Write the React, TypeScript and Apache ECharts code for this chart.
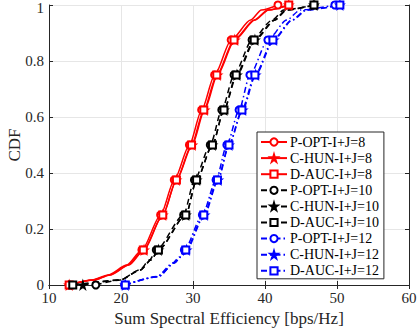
import React, { useEffect, useRef } from "react";
import * as echarts from "echarts";

// CDF levels shared by all curves
const cdfLevels = [0, 0.018, 0.036, 0.071, 0.125, 0.25, 0.375, 0.5, 0.625, 0.75, 0.875, 0.946, 0.982, 1];
const cdfLevelsB = [0, 0.018, 0.054, 0.09, 0.125, 0.25, 0.375, 0.5, 0.625, 0.75, 0.875, 0.946, 0.982, 1];
const cdfLevelsC = [0, 0.03, 0.079, 0.1, 0.125, 0.25, 0.375, 0.5, 0.625, 0.75, 0.875, 0.946, 0.982, 1];

// x values (sum spectral efficiency) per series
const pOpt8 = [12.8, 16.0, 18.2, 20.8, 22.9, 25.5, 27.4, 29.5, 31.2, 33.0, 35.3, 38.0, 39.5, 41.8];
const cHun8 = [12.8, 16.2, 18.5, 21.1, 23.2, 25.8, 27.7, 29.9, 31.6, 33.4, 35.8, 38.6, 40.5, 43.3];
const dAuc8 = [12.8, 16.2, 18.4, 21.0, 23.1, 25.8, 27.7, 29.8, 31.5, 33.3, 35.7, 38.5, 40.4, 43.3];

const pOpt10 = [16.5, 19.9, 22.6, 24.0, 24.9, 28.7, 30.2, 32.4, 34.0, 35.7, 38.2, 41.0, 42.6, 46.8];
const cHun10 = [14.7, 19.9, 22.7, 24.2, 25.2, 29.0, 30.5, 32.7, 34.3, 36.1, 38.6, 41.4, 43.0, 46.8];
const dAuc10 = [13.3, 19.9, 22.7, 24.2, 25.2, 29.0, 30.5, 32.7, 34.3, 36.0, 38.5, 41.3, 42.9, 46.8];

const pOpt12 = [20.5, 25.0, 27.2, 28.1, 28.8, 31.3, 33.2, 34.7, 36.4, 37.9, 40.4, 43.0, 44.9, 49.7];
const cHun12 = [20.6, 25.2, 27.4, 28.3, 29.1, 31.6, 33.5, 35.0, 36.9, 38.7, 41.2, 43.8, 45.8, 50.4];
const dAuc12 = [20.6, 25.2, 27.4, 28.3, 29.0, 31.5, 33.4, 35.0, 36.8, 38.6, 41.1, 43.7, 45.7, 50.4];

const seriesNames = [
  "P-OPT-I+J=8", "C-HUN-I+J=8", "D-AUC-I+J=8",
  "P-OPT-I+J=10", "C-HUN-I+J=10", "D-AUC-I+J=10",
  "P-OPT-I+J=12", "C-HUN-I+J=12", "D-AUC-I+J=12",
];

const xTicks = { min: 10, max: 60, interval: 10 };
const yTicks = { min: 0, max: 1, interval: 0.2 };
const xAxisTitle = "Sum Spectral Efficiency [bps/Hz]";
const yAxisTitle = "CDF";

const STAR =
  "path://M50,0 L61,35 L98,35 L68,57 L79,91 L50,70 L21,91 L32,57 L2,35 L39,35 Z";

const FONT = "'Liberation Serif', 'Times New Roman', serif";

export default function App() {
  const ref = useRef<HTMLDivElement>(null);
  useEffect(() => {
    if (!ref.current) return;
    const chart = echarts.init(ref.current, undefined, { renderer: "svg" });

    const groups = [
      { xs: [pOpt8, cHun8, dAuc8], ys: cdfLevels, color: "#ff0000", type: "solid" as any },
      { xs: [pOpt10, cHun10, dAuc10], ys: cdfLevelsB, color: "#000000", type: [6, 4] as any },
      { xs: [pOpt12, cHun12, dAuc12], ys: cdfLevelsC, color: "#0000ff", type: [6, 3, 1.5, 3] as any },
    ];
    const symbols = ["emptyCircle", STAR, "emptyRect"];
    const sizes = [7, 8, 7];

    const series: any[] = [];
    groups.forEach((g, gi) => {
      g.xs.forEach((xs, si) => {
        series.push({
          name: seriesNames[gi * 3 + si],
          type: "line",
          smooth: 0.25,
          smoothMonotone: "x",
          symbol: symbols[si],
          symbolSize: sizes[si],
          showAllSymbol: true,
          lineStyle: { color: g.color, width: 1.5, type: g.type },
          itemStyle: { color: g.color, borderColor: g.color, borderWidth: 1.4 },
          data: xs.map((x, i) => {
            const y = g.ys[i];
            const marked = Math.abs(y * 8 - Math.round(y * 8)) < 1e-6;
            return marked ? { value: [x, y] } : { value: [x, y], symbol: "none" };
          }),
          z: 3,
        });
      });
    });

    const axisLine = { show: true, lineStyle: { color: "#262626", width: 1 } };
    const tickStyle = { show: true, inside: true, length: 4, lineStyle: { color: "#262626" } };

    chart.setOption({
      animation: false,
      backgroundColor: "#ffffff",
      grid: { left: 49, right: 10, top: 5, bottom: 43, containLabel: false, outerBoundsMode: "none" },
      graphic: [
        {
          type: "text",
          x: 14,
          y: 145,
          rotation: Math.PI / 2,
          style: {
            text: yAxisTitle,
            font: "17px " + FONT,
            fill: "#262626",
            align: "center",
            verticalAlign: "middle",
          },
        },
      ],
      xAxis: [
        {
          type: "value",
          min: xTicks.min, max: xTicks.max, interval: xTicks.interval,
          name: xAxisTitle,
          nameLocation: "middle",
          nameGap: 21,
          nameTextStyle: { fontFamily: FONT, fontSize: 17, color: "#262626" },
          axisLine, axisTick: tickStyle,
          axisLabel: { fontFamily: FONT, fontSize: 15, color: "#262626", margin: 5 },
          splitLine: { show: true, lineStyle: { color: "#e6e6e6", width: 1 } },
        },
        {
          type: "value", position: "top",
          min: xTicks.min, max: xTicks.max, interval: xTicks.interval,
          axisLine, axisTick: tickStyle, axisLabel: { show: false }, splitLine: { show: false },
        },
      ],
      yAxis: [
        {
          type: "value",
          min: yTicks.min, max: yTicks.max, interval: yTicks.interval,
          axisLine, axisTick: tickStyle,
          axisLabel: {
            fontFamily: FONT, fontSize: 15, color: "#262626", margin: 5,
            formatter: (v: number) => (v === yTicks.max ? "{t|" + v + "}" : String(v)),
            rich: { t: { fontFamily: FONT, fontSize: 15, color: "#262626", padding: [6, 0, 0, 0] } },
          },
          splitLine: { show: true, lineStyle: { color: "#e6e6e6", width: 1 } },
        },
        {
          type: "value", position: "right",
          min: yTicks.min, max: yTicks.max, interval: yTicks.interval,
          axisLine, axisTick: tickStyle, axisLabel: { show: false }, splitLine: { show: false },
        },
      ],
      legend: {
        orient: "vertical",
        left: 257,
        top: 132,
        width: 126,
        padding: [3, 5, 1, 3],
        itemGap: 2.1,
        itemWidth: 26,
        itemHeight: 9,
        backgroundColor: "#ffffff",
        borderColor: "#262626",
        borderWidth: 1,
        textStyle: { fontFamily: FONT, fontSize: 14, color: "#000000", padding: [0, 0, 0, -2] },
        data: seriesNames,
      },
      series,
    });
    return () => chart.dispose();
  }, []);
  return <div ref={ref} style={{ width: 419, height: 328, position: "absolute", left: 0, top: 0 }} />;
}
